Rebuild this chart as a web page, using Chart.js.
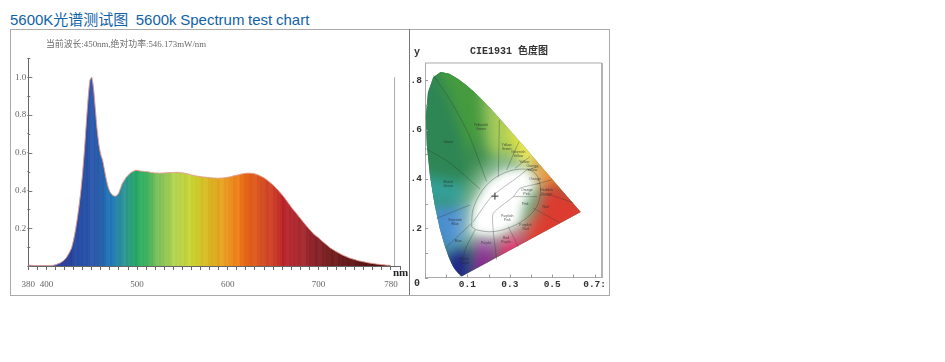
<!DOCTYPE html>
<html lang="en">
<head>
<meta charset="UTF-8">
<title>5600K Spectrum test chart</title>
<script src="https://cdn.jsdelivr.net/npm/chart.js"></script>
<style>
  html, body { margin: 0; padding: 0; background: #fff; width: 945px; height: 362px; overflow: hidden; }
  #titulo { position: absolute; left: 10px; top: 11px; font: 15px/18px "Liberation Sans", "Noto Sans CJK SC", sans-serif; word-spacing: -.5px; color: #0f62a8; white-space: pre; }
  #moldura { position: absolute; left: 10px; top: 29px; width: 598px; height: 265px; border: 1px solid #aaa; }
  #divisor { position: absolute; left: 409px; top: 29px; width: 1px; height: 266px; background: #777; }
  #espectro { position: absolute; left: 11px; top: 30px; filter: blur(.35px); }
  #cie { position: absolute; left: 410px; top: 30px; filter: blur(.35px); }
</style>
</head>
<body>
<div id="titulo">5600K光谱测试图  5600k Spectrum test chart</div>
<div id="moldura"></div>
<div id="divisor"></div>
<canvas id="espectro" width="398" height="264"></canvas>
<canvas id="cie" width="199" height="264"></canvas>

<script>
// wavelength every 2 nm, 380..780
const wavelengths = [
  380,382,384,386,388,390,392,394,396,398,400,402,404,406,408,410,412,414,416,418,
  420,422,424,426,428,430,432,434,436,438,440,442,444,446,448,450,452,454,456,458,
  460,462,464,466,468,470,472,474,476,478,480,482,484,486,488,490,492,494,496,498,
  500,502,504,506,508,510,512,514,516,518,520,522,524,526,528,530,532,534,536,538,
  540,542,544,546,548,550,552,554,556,558,560,562,564,566,568,570,572,574,576,578,
  580,582,584,586,588,590,592,594,596,598,600,602,604,606,608,610,612,614,616,618,
  620,622,624,626,628,630,632,634,636,638,640,642,644,646,648,650,652,654,656,658,
  660,662,664,666,668,670,672,674,676,678,680,682,684,686,688,690,692,694,696,698,
  700,702,704,706,708,710,712,714,716,718,720,722,724,726,728,730,732,734,736,738,
  740,742,744,746,748,750,752,754,756,758,760,762,764,766,768,770,772,774,776,778,780
];
const intensity = [
  .004,.004,.003,.003,.002,.002,.002,.002,.002,.002,.002,.002,.003,.003,.004,.006,.010,.014,.019,.025,
  .033,.045,.060,.078,.100,.140,.190,.250,.320,.400,.500,.620,.760,.890,.985,1.00,.940,.830,.720,.640,
  .590,.560,.510,.460,.420,.395,.380,.372,.370,.375,.390,.415,.440,.455,.470,.480,.490,.497,.502,.506,
  .507,.505,.503,.502,.501,.500,.499,.497,.495,.494,.493,.493,.492,.492,.493,.493,.494,.494,.495,.495,
  .496,.496,.496,.495,.494,.494,.492,.490,.488,.485,.482,.480,.478,.476,.475,.474,.472,.471,.470,.469,
  .468,.467,.466,.466,.465,.465,.466,.466,.467,.468,.470,.472,.474,.477,.479,.481,.483,.486,.488,.490,
  .491,.492,.492,.491,.490,.488,.485,.481,.477,.472,.467,.460,.453,.445,.437,.429,.419,.409,.399,.388,
  .377,.365,.352,.339,.326,.312,.300,.289,.277,.265,.253,.241,.229,.217,.206,.195,.184,.174,.164,.157,
  .150,.141,.132,.124,.116,.108,.100,.093,.087,.081,.076,.070,.065,.060,.055,.051,.047,.043,.040,.037,
  .034,.031,.028,.026,.024,.022,.020,.018,.016,.015,.013,.012,.010,.009,.008,.007,.006,.005,.004,.004,.003
];
const xTickLabels = { 380: '380', 400: '400', 500: '500', 600: '600', 700: '700', 780: '780' };
const yTickLabels = { 2: '0.2', 4: '0.4', 6: '0.6', 8: '0.8', 10: '1.0' };
const guideX = [784, 784];
const guideY = [0, 1];

// colour of the spectrum, one per 10 nm from 380
const bandColors = [
  '#2a3f98','#2a3f98','#2a3f98','#2a3f98','#2a3f98','#2547a0','#2750a5','#2a55a8','#2560aa','#1f75b5',
  '#2a8aa0','#2a9a80','#28a860','#3fb05e','#70bb58','#92c455','#aed04e','#bcd242','#c8cf30','#d0c025',
  '#d8b020','#e0a31f','#e89220','#ea7d18','#e06014','#d9571c','#cf4a24','#c93b26','#b82528','#b02830',
  '#a42a30','#90242a','#802027','#75201f','#6c1c1e','#661a1a','#601616','#581313','#501010','#480e0e','#400c0c'
];

// CIE 1931 locus
const locus = [
  [.1741,.0050],[.1714,.0051],[.1644,.0109],[.1566,.0177],[.1440,.0297],[.1355,.0399],[.1241,.0578],[.1096,.0868],
  [.0913,.1327],[.0687,.2007],[.0454,.2950],[.0235,.4127],[.0082,.5384],[.0039,.6548],[.0139,.7502],[.0389,.8120],
  [.0743,.8338],[.1142,.8262],[.1547,.8059],[.1929,.7816],[.2296,.7543],[.2658,.7243],[.3016,.6923],[.3373,.6589],
  [.3731,.6245],[.4087,.5896],[.4441,.5547],[.4788,.5202],[.5125,.4866],[.5448,.4544],[.5752,.4242],[.6029,.3965],
  [.6270,.3725],[.6658,.3340],[.6915,.3083],[.7190,.2809],[.7347,.2653],[.1741,.0050]
];

// colour patches under the locus
const patchGreen = [[-.05,.30],[-.05,.9],[.12,.9],[.2,.62],[.2,.4],[.1,.32]];
const patchGreenTop = [[.03,.9],[.14,.9],[.28,.78],[.29,.6],[.21,.5],[.13,.7]];
const patchYellowGreen = [[.27,.78],[.40,.66],[.46,.57],[.36,.47],[.29,.52]];
const patchYellow = [[.38,.70],[.60,.50],[.50,.43],[.41,.49]];
const patchOrange = [[.54,.52],[.70,.40],[.58,.34],[.49,.41]];
const patchRed = [[.57,.40],[.80,.30],[.74,.18],[.46,.05],[.45,.2],[.52,.26]];
const patchPink = [[.33,-.02],[.50,.06],[.45,.2],[.34,.17]];
const patchPurple = [[.2,-.03],[.33,-.02],[.33,.17],[.24,.17]];
const patchDarkBlue = [[.10,-.03],[.22,-.03],[.2,.13],[.10,.11]];
const patchBlue = [[-.03,.30],[.21,.30],[.2,.15],[.09,.09],[.02,.2]];
const patchTeal = [[-.05,.42],[-.05,.30],[.18,.30],[.2,.38]];
const patchHalo = [[.17,.14],[.19,.30],[.25,.42],[.35,.48],[.49,.48],[.56,.40],[.50,.28],[.47,.18],[.33,.13]];
const patchWhite = [[.22,.18],[.23,.29],[.29,.38],[.37,.43],[.48,.44],[.52,.38],[.46,.30],[.44,.22],[.33,.17]];
const patches = [patchGreen, patchGreenTop, patchYellowGreen, patchYellow, patchOrange, patchRed,
                 patchPink, patchPurple, patchDarkBlue, patchBlue, patchTeal, patchHalo, patchWhite];
const patchColors = ['#2f8655','#459b3e','#a6cc5a','#e9e548','#ea962a','#dc3c30',
                     '#da2c66','#8e2a94','#1f2490','#4a8fd0','#34a09a','rgba(255,255,255,.55)','#ffffff'];

// lines between the named colour regions
const ellipse = [[.220,.206],[.228,.281],[.283,.368],[.354,.416],[.440,.439],[.511,.429],[.542,.382],[.535,.301],
                 [.487,.247],[.409,.206],[.322,.186],[.244,.193],[.220,.206]];
const regionLines = [
  [[.039,.821],[.118,.720],[.204,.585],[.291,.389]],
  [[0,.524],[.110,.470],[.260,.358]],
  [[.351,.639],[.346,.409]],
  [[.443,.551],[.385,.436]],
  [[.495,.490],[.425,.443]],
  [[.539,.450],[.480,.436]],
  [[.598,.396],[.527,.379]],
  [[.700,.303],[.598,.332],[.540,.335]],
  [[.637,.222],[.511,.281]],
  [[.440,.125],[.393,.206]],
  [[.338,.071],[.322,.186]],
  [[.236,.193],[.189,.112],[.165,.003]],
  [[.220,.220],[.094,.118]],
  [[.055,.240],[.212,.294]],
  [[.228,.226],[.314,.328],[.440,.409],[.480,.436]],
  [[.542,.382],[.448,.362],[.417,.328],[.322,.260],[.322,.186]],
  [[.417,.328],[.528,.328]]
];
const whitePoint = [[.33,.33]];
const frameLine = [[0,.87],[.835,.87],[.835,0]];

const regionNames = ['Green','Bluish Green','Yellowish Green','Yellow Green','Greenish Yellow','Yellow','Orange Yellow','Orange',
  'Reddish Orange','Red','Pink','Orange Pink','Purplish Pink','Purplish Red','Red Purple','Purple','Bluish Purple','Blue','Greenish Blue'];
const regionNameX = [.110,.110,.264,.385,.440,.468,.506,.519,.574,.569,.472,.480,.388,.475,.382,.288,.185,.157,.142];
const regionNameY = [.551,.378,.612,.531,.500,.467,.443,.400,.348,.287,.299,.348,.243,.204,.150,.141,.065,.149,.226];

// x axis labels on this diagram are printed one step apart from the ticks
const cieXLabels = { 2: '0.1', 4: '0.3', 6: '0.5', 8: '0.7:' };
const cieYLabels = { 2: '.2', 4: '.4', 6: '.6', 8: '.8' };

function pares(lista) { return lista.map(p => ({ x: p[0], y: p[1] })); }

function corDaFaixa(nm, i) {
  let pos = (nm - 380) / 10;
  let a = bandColors[Math.floor(pos)];
  let b = bandColors[Math.min(Math.floor(pos) + 1, bandColors.length - 1)];
  let t = pos - Math.floor(pos);
  let ganho = [0, 4, 0, 3, 3, -2, 2, 7, 7][i % 9];
  let canal = k => {
    let va = parseInt(a.substr(k, 2), 16), vb = parseInt(b.substr(k, 2), 16);
    return Math.max(0, Math.min(255, Math.round(va + (vb - va) * t + ganho)));
  };
  return `rgb(${canal(1)}, ${canal(3)}, ${canal(5)})`;
}

// horizontal gradient with one hard stripe per wavelength
function gradienteEspectro(context) {
  const chart = context.chart;
  if (!chart.chartArea) return '#888';
  const sx = chart.scales.x;
  const grad = chart.ctx.createLinearGradient(sx.left, 0, sx.right, 0);
  const total = sx.max - sx.min;
  wavelengths.forEach((nm, i) => {
    const cor = corDaFaixa(nm, i);
    grad.addColorStop((nm - sx.min) / total, cor);
    grad.addColorStop(Math.min(1, (nm + 2 - sx.min) / total), cor);
  });
  return grad;
}

// free text and inward ticks, text positions in canvas pixels
const textosEspectro = {
  id: 'textosEspectro',
  afterDraw(chart) {
    const ctx = chart.ctx;
    const sx = chart.scales.x, sy = chart.scales.y;
    ctx.save();
    ctx.strokeStyle = '#777';
    ctx.lineWidth = 1;
    sy.ticks.forEach(t => {
      const py = Math.round(sy.getPixelForValue(t.value)) + .5;
      const largo = yTickLabels[Math.round(t.value * 10)] ? 4 : 2;
      ctx.beginPath(); ctx.moveTo(sx.left, py); ctx.lineTo(sx.left + largo, py); ctx.stroke();
    });
    ctx.textBaseline = 'middle';
    ctx.fillStyle = '#6a6a6a';
    ctx.font = '8.85px "Liberation Serif", "Noto Sans CJK SC"';
    ctx.fillText('当前波长:450nm,绝对功率:546.173mW/nm', 35, 15);
    ctx.fillStyle = '#222';
    ctx.font = 'bold 11px "Liberation Serif"';
    ctx.fillText('nm', 382, 243);
    ctx.restore();
  }
};

const desenhoCie = {
  id: 'desenhoCie',
  beforeDatasetsDraw(chart) {
    const ctx = chart.ctx;
    const area = chart.chartArea;
    const contorno = chart.getDatasetMeta(patches.length).data;
    ctx.save();
    ctx.beginPath();
    ctx.rect(area.left, area.top, area.right - area.left, area.bottom - area.top);
    ctx.clip();
    ctx.beginPath();
    contorno.forEach((p, i) => i ? ctx.lineTo(p.x, p.y) : ctx.moveTo(p.x, p.y));
    ctx.closePath();
    ctx.clip();
    ctx.fillStyle = '#3f8f52';
    ctx.fillRect(area.left, area.top, area.right - area.left, area.bottom - area.top);
    patches.forEach((lista, n) => {
      const pts = chart.getDatasetMeta(n).data;
      ctx.filter = n === patches.length - 1 ? 'blur(4px)' : (n === patches.length - 2 ? 'blur(9px)' : 'blur(7px)');
      ctx.beginPath();
      pts.forEach((p, i) => i ? ctx.lineTo(p.x, p.y) : ctx.moveTo(p.x, p.y));
      ctx.closePath();
      ctx.fillStyle = patchColors[n];
      ctx.fill();
    });
    ctx.restore();
  },
  afterDraw(chart) {
    const ctx = chart.ctx;
    const sx = chart.scales.x, sy = chart.scales.y;
    ctx.save();
    // inward ticks
    ctx.strokeStyle = '#999';
    ctx.lineWidth = 1;
    sx.ticks.forEach(t => {
      const px = Math.round(sx.getPixelForValue(t.value)) + .5;
      ctx.beginPath(); ctx.moveTo(px, sy.bottom); ctx.lineTo(px, sy.bottom - 3); ctx.stroke();
    });
    sy.ticks.forEach(t => {
      const py = Math.round(sy.getPixelForValue(t.value)) + .5;
      ctx.beginPath(); ctx.moveTo(sx.left, py); ctx.lineTo(sx.left + 3, py); ctx.stroke();
    });
    // names of the regions
    ctx.fillStyle = 'rgba(40,40,40,.75)';
    ctx.font = '3.5px "Liberation Sans"';
    ctx.textAlign = 'center';
    ctx.textBaseline = 'middle';
    regionNames.forEach((nome, i) => {
      const px = sx.getPixelForValue(regionNameX[i]), py = sy.getPixelForValue(regionNameY[i]);
      nome.split(' ').forEach((parte, k, todas) => ctx.fillText(parte, px, py + (k - (todas.length - 1) / 2) * 4));
    });
    ctx.fillStyle = '#333';
    ctx.font = 'bold 10px "Liberation Mono", "Noto Sans CJK SC"';
    ctx.fillText('CIE1931 色度图', 99, 21);
    ctx.fillText('y', 7, 22);
    ctx.fillText('0', 7, 253);
    ctx.restore();
  }
};

new Chart(document.getElementById('espectro'), {
  type: 'line',
  data: {
    datasets: [
      {
        label: 'guia',
        data: guideX.map((x, i) => ({ x: x, y: guideY[i] })),
        borderColor: '#aaa', borderWidth: 1, pointRadius: 0
      },
      {
        label: 'espectro',
        data: wavelengths.map((x, i) => ({ x: x, y: intensity[i] })),
        borderColor: '#e39a8e', borderWidth: 1, pointRadius: 0, tension: .2,
        fill: 'origin',
        backgroundColor: gradienteEspectro
      }
    ]
  },
  options: {
    responsive: false, animation: false, events: [],
    layout: { padding: { left: 0, top: 28.4, right: 8.4, bottom: 0 } },
    plugins: { legend: { display: false }, tooltip: { enabled: false } },
    scales: {
      x: {
        type: 'linear', min: 380, max: 790,
        afterFit(s) { s.height = 28; },
        border: { color: '#666', width: 1 },
        grid: { display: true, drawOnChartArea: false, tickLength: 4, tickColor: '#666' },
        ticks: {
          stepSize: 10, autoSkip: false, maxRotation: 0, padding: 9, color: '#666',
          font: { family: '"Liberation Serif"', size: 9 },
          callback: v => xTickLabels[v] || ''
        }
      },
      y: {
        min: 0, max: 1.1,
        afterFit(s) { s.width = 17.3; },
        border: { color: '#666', width: 1 },
        grid: { display: true, drawOnChartArea: false, tickLength: 1, tickColor: '#777' },
        ticks: {
          stepSize: .1, autoSkip: false, padding: 1, color: '#666',
          font: { family: '"Liberation Serif"', size: 9 },
          callback: v => yTickLabels[Math.round(v * 10)] || ''
        }
      }
    }
  },
  plugins: [textosEspectro]
});

const conjuntosCie = [];
patches.forEach((lista, n) => conjuntosCie.push({ label: 'mancha' + n, data: pares(lista), showLine: false, pointRadius: 0 }));
conjuntosCie.push({ label: 'locus', data: pares(locus), showLine: false, pointRadius: 0 });
conjuntosCie.push({ label: 'elipse', data: pares(ellipse), showLine: true, pointRadius: 0, borderColor: 'rgba(50,50,50,.6)', borderWidth: .6, tension: .35 });
regionLines.forEach((lista, n) => conjuntosCie.push({
  label: 'linha' + n, data: pares(lista), showLine: true, pointRadius: 0,
  borderColor: 'rgba(50,50,50,.55)', borderWidth: .6, tension: .2
}));
conjuntosCie.push({ label: 'moldura', data: pares(frameLine), showLine: true, pointRadius: 0, borderColor: '#aaa', borderWidth: 1, clip: false });
conjuntosCie.push({ label: 'branco', data: pares(whitePoint), showLine: false, pointStyle: 'cross', pointRadius: 3.5, borderColor: '#333', borderWidth: 1 });

new Chart(document.getElementById('cie'), {
  type: 'scatter',
  data: { datasets: conjuntosCie },
  options: {
    responsive: false, animation: false, events: [],
    layout: { padding: { left: 0, top: 33, right: 7, bottom: 0 } },
    plugins: { legend: { display: false }, tooltip: { enabled: false } },
    scales: {
      x: {
        type: 'linear', min: 0, max: .835,
        afterFit(s) { s.height = 16.5; },
        border: { color: '#aaa', width: 1 },
        grid: { display: false, drawTicks: false, tickLength: 0 },
        ticks: {
          stepSize: .1, autoSkip: false, includeBounds: false, maxRotation: 0, padding: 1, color: '#333',
          font: { family: '"Liberation Mono"', size: 9.5, weight: 'bold' },
          callback: v => cieXLabels[Math.round(v * 10)] || ''
        }
      },
      y: {
        min: 0, max: .87,
        afterFit(s) { s.width = 15; },
        border: { color: '#aaa', width: 1 },
        grid: { display: false, drawTicks: false, tickLength: 0 },
        ticks: {
          stepSize: .1, autoSkip: false, includeBounds: false, padding: 3, color: '#333',
          font: { family: '"Liberation Mono"', size: 9.5, weight: 'bold' },
          callback: v => cieYLabels[Math.round(v * 10)] || ''
        }
      }
    }
  },
  plugins: [desenhoCie]
});
</script>
</body>
</html>
